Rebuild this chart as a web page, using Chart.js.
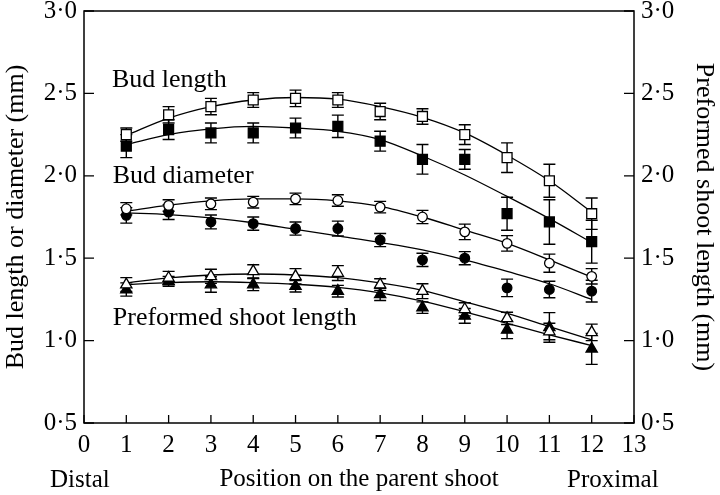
<!DOCTYPE html>
<html><head><meta charset="utf-8">
<script src="https://cdn.jsdelivr.net/npm/chart.js@4.4.0/dist/chart.umd.min.js"></script>
<style>html,body{margin:0;padding:0;background:#fff}#wrap{width:720px;height:495px;position:relative}</style>
</head><body><div id="wrap"><canvas id="c"></canvas></div>
<script>
// ---- data ----
const positions = [1,2,3,4,5,6,7,8,9,10,11,12];
const xTickLabels = ['0','1','2','3','4','5','6','7','8','9','10','11','12','13'];
const yTickLabels = ['0·5','1·0','1·5','2·0','2·5','3·0'];

// Bud length (open / filled squares)
const budLengthOpen      = [2.25,2.37,2.42,2.46,2.47,2.46,2.39,2.36,2.25,2.11,1.97,1.77];
const budLengthOpenErr   = [0.04,0.05,0.05,0.045,0.05,0.045,0.05,0.047,0.06,0.09,0.10,0.095];
const budLengthFilled    = [2.18,2.28,2.26,2.26,2.29,2.30,2.21,2.10,2.10,1.77,1.72,1.60];
const budLengthFilledErr = [0.07,0.06,0.06,0.06,0.06,0.068,0.06,0.09,0.06,0.10,0.135,0.13];
// Bud diameter (open / filled circles)
const budDiamOpen        = [1.80,1.82,1.83,1.84,1.86,1.85,1.81,1.75,1.66,1.59,1.47,1.39];
const budDiamOpenErr     = [0.037,0.035,0.035,0.035,0.035,0.035,0.035,0.04,0.047,0.047,0.055,0.047];
const budDiamFilled      = [1.76,1.78,1.72,1.71,1.68,1.68,1.61,1.49,1.50,1.32,1.31,1.30];
const budDiamFilledErr   = [0.047,0.045,0.042,0.04,0.04,0.045,0.04,0.04,0.04,0.053,0.05,0.066];
// Preformed shoot length (open / filled triangles)
const shootOpen          = [1.34,1.38,1.39,1.42,1.39,1.41,1.34,1.30,1.19,1.135,1.055,1.05];
const shootOpenErr       = [0.042,0.04,0.043,0.04,0.047,0.045,0.035,0.045,0.04,0.037,0.05,0.05];
const shootFilled        = [1.31,1.36,1.34,1.34,1.33,1.30,1.28,1.20,1.15,1.065,1.08,0.95];
const shootFilledErr     = [0.04,0.03,0.047,0.037,0.035,0.035,0.037,0.035,0.045,0.053,0.09,0.094];

// fitted curves
const budLengthOpenFit   = [2.245,2.35,2.42,2.46,2.475,2.465,2.42,2.355,2.26,2.125,1.97,1.78];
const budLengthFilledFit = [2.19,2.25,2.285,2.30,2.29,2.27,2.22,2.12,2.005,1.875,1.74,1.595];
const budDiamOpenFit     = [1.785,1.822,1.848,1.86,1.86,1.848,1.815,1.75,1.67,1.59,1.49,1.385];
const budDiamFilledFit   = [1.775,1.765,1.745,1.715,1.675,1.635,1.595,1.55,1.49,1.42,1.345,1.25];
const shootOpenFit       = [1.35,1.38,1.398,1.404,1.398,1.382,1.35,1.305,1.235,1.165,1.085,1.005];
const shootFilledFit     = [1.34,1.352,1.357,1.352,1.342,1.323,1.29,1.24,1.175,1.105,1.035,0.97];

const annotations = [
  {text:'Bud length', x:0.66, y:2.539},
  {text:'Bud diameter', x:0.68, y:1.958},
  {text:'Preformed shoot length', x:0.68, y:1.095}
];

// ---- build ----
const FONT = "'Liberation Serif','Times New Roman',serif";
Chart.defaults.font.family = FONT;
Chart.defaults.color = '#000';

const pts = arr => positions.map((x,i)=>({x, y:arr[i]}));
function markers(vals, errs, style, filled, r){
  return {data: pts(vals), errors: errs, showLine:false, pointStyle: style, pointRadius: r, pointHoverRadius: r,
    pointBackgroundColor: filled ? '#000' : '#fff', pointBorderColor:'#000', pointBorderWidth:1.3, yAxisID:'y'};
}
function curve(vals){
  return {data: pts(vals), showLine:true, borderColor:'#000', borderWidth:1.3, pointRadius:0, pointHoverRadius:0,
    tension:0.4, cubicInterpolationMode:'monotone', fill:false, yAxisID:'y'};
}

const datasets = [
  markers(budLengthOpen, budLengthOpenErr, 'rect', false, 7),
  markers(budLengthFilled, budLengthFilledErr, 'rect', true, 7),
  markers(budDiamOpen, budDiamOpenErr, 'circle', false, 4.8),
  markers(budDiamFilled, budDiamFilledErr, 'circle', true, 4.8),
  markers(shootOpen, shootOpenErr, 'triangle', false, 6.5),
  markers(shootFilled, shootFilledErr, 'triangle', true, 6.5),
  curve(budLengthOpenFit), curve(budLengthFilledFit),
  curve(budDiamOpenFit), curve(budDiamFilledFit),
  curve(shootOpenFit), curve(shootFilledFit)
];

const errorBars = {
  id:'errorBars',
  beforeDatasetsDraw(chart){
    const ctx = chart.ctx, ys = chart.scales.y;
    ctx.save(); ctx.strokeStyle='#000'; ctx.lineWidth=1.4;
    chart.data.datasets.forEach((ds,i)=>{
      if(!ds.errors) return;
      const meta = chart.getDatasetMeta(i);
      meta.data.forEach((el,j)=>{
        const v = ds.data[j].y, e = ds.errors[j];
        const y1 = ys.getPixelForValue(v+e), y2 = ys.getPixelForValue(v-e);
        ctx.beginPath();
        ctx.moveTo(el.x, y1); ctx.lineTo(el.x, y2);
        ctx.moveTo(el.x-6, y1); ctx.lineTo(el.x+6, y1);
        ctx.moveTo(el.x-6, y2); ctx.lineTo(el.x+6, y2);
        ctx.stroke();
      });
    });
    ctx.restore();
  }
};

const frame = {
  id:'frame',
  afterDraw(chart){
    const ctx = chart.ctx, a = chart.chartArea, sx = chart.scales.x, sy = chart.scales.y, sy2 = chart.scales.y2;
    ctx.save();
    ctx.strokeStyle='#000'; ctx.lineWidth=1.5;
    ctx.strokeRect(a.left, a.top, a.right-a.left, a.bottom-a.top);
    ctx.lineWidth=1.3;
    ctx.beginPath();
    sx.ticks.forEach(t=>{const p=sx.getPixelForValue(t.value); ctx.moveTo(p,a.bottom); ctx.lineTo(p,a.bottom-8);});
    sy.ticks.forEach(t=>{const p=sy.getPixelForValue(t.value); ctx.moveTo(a.left,p); ctx.lineTo(a.left+10,p);});
    sy2.ticks.forEach(t=>{const p=sy2.getPixelForValue(t.value); ctx.moveTo(a.right,p); ctx.lineTo(a.right-10,p);});
    ctx.stroke();
    ctx.fillStyle='#000';
    ctx.textBaseline='alphabetic'; ctx.textAlign='left';
    ctx.font = "26px " + FONT;
    annotations.forEach(an=>{
      ctx.fillText(an.text, sx.getPixelForValue(an.x), sy.getPixelForValue(an.y));
    });
    ctx.font = "25px " + FONT;
    ctx.fillText('Distal', 50, 486.5);
    ctx.fillText('Proximal', 567, 486.5);
    ctx.restore();
  }
};

const yTick = v => yTickLabels[Math.round((v-0.5)/0.5)];

new Chart(document.getElementById('c'), {
  type:'line',
  data:{datasets},
  plugins:[errorBars, frame],
  options:{
    animation:false, responsive:true, maintainAspectRatio:false,
    layout:{padding:{top:11,left:0,right:0,bottom:0}},
    plugins:{legend:{display:false}, tooltip:{enabled:false}},
    scales:{
      x:{type:'linear', min:0, max:13,
        grid:{display:false, drawTicks:false}, border:{display:false},
        ticks:{stepSize:1, padding:7, font:{size:25}, color:'#000', maxRotation:0, autoSkip:false,
          callback:(v)=>xTickLabels[v]},
        title:{display:true, text:'Position on the parent shoot', font:{size:25}, color:'#000', padding:{top:0,bottom:1}},
        afterFit(s){ s.height = 72; s.paddingLeft = 0; s.paddingRight = 0; }
      },
      y:{type:'linear', position:'left', min:0.5, max:3,
        grid:{display:false, drawTicks:false}, border:{display:false},
        ticks:{stepSize:0.5, padding:7, font:{size:25}, color:'#000', callback:yTick},
        title:{display:true, text:'Bud length or diameter (mm)', font:{size:26}, color:'#000', padding:{top:1,bottom:0}},
        afterFit(s){ s.width = 84; s.paddingTop = 0; s.paddingBottom = 0; }
      },
      y2:{type:'linear', position:'right', min:0.5, max:3,
        grid:{display:false, drawTicks:false}, border:{display:false},
        ticks:{stepSize:0.5, padding:7, font:{size:25}, color:'#000', callback:yTick},
        title:{display:true, text:'Preformed shoot length (mm)', font:{size:26}, color:'#000', padding:{top:1,bottom:0}},
        afterFit(s){ s.width = 86; s.paddingTop = 0; s.paddingBottom = 0; }
      }
    }
  }
});
</script></body></html>
